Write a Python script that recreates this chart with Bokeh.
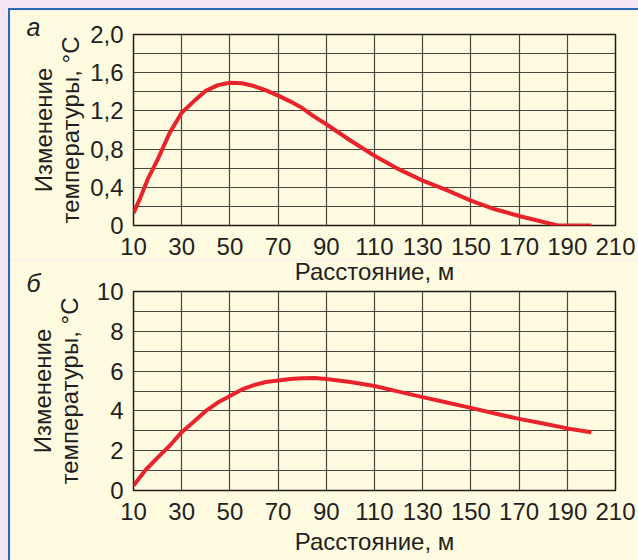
from bokeh.plotting import figure
from bokeh.layouts import column, row
from bokeh.models import FixedTicker, CustomJSTickFormatter, Range1d, Div, Title
from bokeh.embed import file_html
from bokeh.resources import INLINE

# --- data ---
x_ticks = [10, 30, 50, 70, 90, 110, 130, 150, 170, 190, 210]

x_a = [10, 13, 16, 20, 25, 30, 35, 40, 45, 50, 55, 60, 65, 70, 75, 80, 85, 90,
       100, 110, 120, 130, 140, 150, 160, 170, 178, 186, 190, 200]
y_a = [0.13, 0.30, 0.49, 0.69, 0.97, 1.18, 1.30, 1.41, 1.47, 1.495, 1.49, 1.46,
       1.415, 1.36, 1.30, 1.23, 1.14, 1.06, 0.89, 0.73, 0.59, 0.47, 0.37, 0.26,
       0.17, 0.10, 0.05, 0.0, 0.0, 0.0]
y_ticks_a = [0, 0.4, 0.8, 1.2, 1.6, 2.0]
y_minor_a = [0.2, 0.6, 1.0, 1.4, 1.8]

x_b = [10, 15, 20, 25, 30, 35, 40, 45, 50, 55, 60, 65, 70, 75, 80, 85, 90, 95,
       100, 110, 120, 130, 140, 150, 160, 170, 180, 190, 200]
y_b = [0.25, 1.03, 1.65, 2.25, 2.93, 3.45, 4.0, 4.42, 4.75, 5.08, 5.3, 5.45,
       5.53, 5.6, 5.64, 5.65, 5.6, 5.53, 5.45, 5.25, 4.97, 4.69, 4.42, 4.15,
       3.87, 3.6, 3.37, 3.12, 2.93]
y_ticks_b = [0, 2, 4, 6, 8, 10]
y_minor_b = [1, 3, 5, 7, 9]

x_title = "Расстояние, м"
y_title = "Изменение\nтемпературы, °С"
letter_a = "а"
letter_b = "б"

FONT = "Liberation Sans"
TXT = "#231f20"
CREAM = "#fffbe1"
GRID = "#4a463e"
RED = "#e8232b"
BLUE = "#2a6bb4"


def make(frame_h, top, bottom, ymax, yt, ym, xs, ys, fmt, ystandoff, xstandoff):
    p = figure(frame_width=482, frame_height=frame_h, output_backend="svg",
               toolbar_location=None,
               x_range=Range1d(10, 210), y_range=Range1d(0, ymax),
               min_border_left=123, min_border_right=23,
               min_border_top=top, min_border_bottom=bottom)
    p.background_fill_color = CREAM
    p.border_fill_color = CREAM
    p.outline_line_color = "#1e1c18"
    p.outline_line_width = 1.5
    p.xaxis.ticker = FixedTicker(ticks=x_ticks)
    p.yaxis.ticker = FixedTicker(ticks=yt, minor_ticks=ym)
    p.yaxis.formatter = CustomJSTickFormatter(code=fmt)
    for ax in (p.xaxis[0], p.yaxis[0]):
        ax.axis_line_color = None
        ax.major_tick_line_color = None
        ax.minor_tick_line_color = None
        ax.major_tick_out = 0
        ax.major_tick_in = 0
        ax.minor_tick_out = 0
        ax.minor_tick_in = 0
        ax.major_label_text_font = FONT
        ax.major_label_text_font_size = "24px"
        ax.major_label_text_color = TXT
        ax.axis_label_text_font = FONT
        ax.axis_label_text_font_size = "24px"
        ax.axis_label_text_font_style = "normal"
        ax.axis_label_text_color = TXT
    p.xaxis.major_label_standoff = xstandoff
    p.yaxis.axis_label = y_title
    p.yaxis.axis_label_text_line_height = 1.0
    p.yaxis.major_label_standoff = 10
    p.yaxis.axis_label_standoff = ystandoff
    p.xgrid.grid_line_color = GRID
    p.xgrid.grid_line_width = 1.2
    p.ygrid.grid_line_color = GRID
    p.ygrid.grid_line_width = 1.2
    p.ygrid.minor_grid_line_color = GRID
    p.ygrid.minor_grid_line_width = 1.2
    p.line(xs, ys, line_color=RED, line_width=4)
    return p


def letter(text, standoff):
    return Title(text=text, align="left", offset=-107, standoff=standoff,
                 vertical_align="middle", text_font=FONT, text_font_size="25px",
                 text_font_style="italic", text_color=TXT)


def xtitle(standoff, valign):
    return Title(text=x_title, align="center", offset=31, standoff=standoff,
                 vertical_align=valign, text_font=FONT, text_font_size="24px",
                 text_font_style="normal", text_color=TXT)


fmt_a = "return tick == 0 ? '0' : tick.toFixed(1).replace('.', ',');"
fmt_b = "return tick.toFixed(0);"

p1 = make(191, 24, 35, 2.0, y_ticks_a, y_minor_a, x_a, y_a, fmt_a, 3, 12)
p2 = make(199, 31, 70, 10, y_ticks_b, y_minor_b, x_b, y_b, fmt_b, 11, 12)

# panel (а): letter above its frame
p1.add_layout(letter(letter_a, -14.6), "above")
# panel (б): letter next to its frame, and above it the x title of panel (а)
p2.add_layout(letter(letter_b, -12.6), "above")
p2.add_layout(xtitle(-22, "middle"), "above")
# x title of panel (б)
p2.add_layout(xtitle(6, "bottom"), "below")

top_bar = Div(width=630, height=2, margin=0, styles={"background-color": BLUE})
left_bar = Div(width=2, height=550, margin=0, styles={"background-color": BLUE})
layout = column(top_bar, row(left_bar, column(p1, p2, spacing=0), spacing=0), spacing=0)

html = file_html(layout, INLINE)
html = html.replace("<body>", '<body style="background-color:#f7e6f3; margin:8px 0 0 8px; overflow:hidden;">')
open("out.html", "w").write(html)
